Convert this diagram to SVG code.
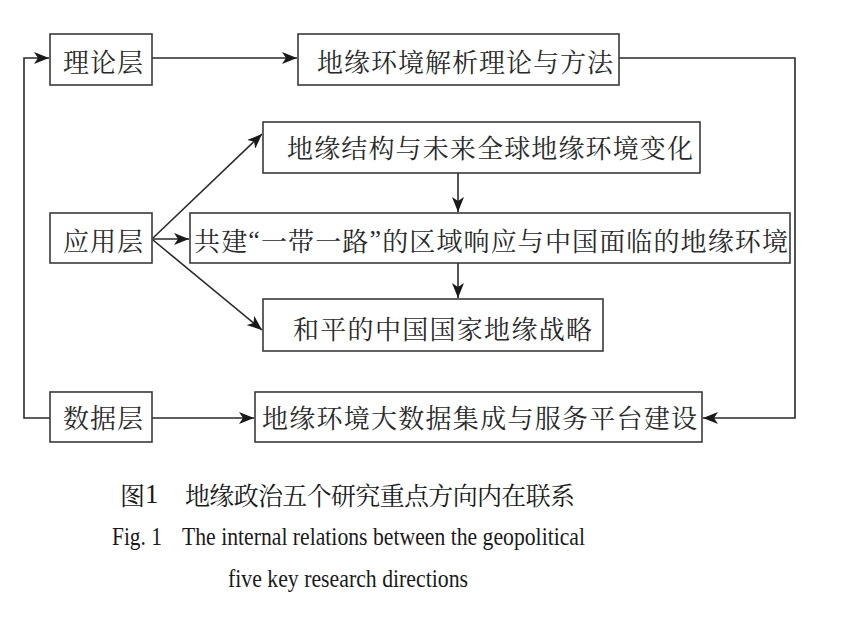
<svg xmlns="http://www.w3.org/2000/svg" width="865" height="638" viewBox="0 0 865 638">
<style>
.box{fill:#fff;stroke:#3a3a3a;stroke-width:1.6}
.t{font-family:"Noto Serif CJK SC","Noto Sans CJK SC","Liberation Serif",serif;font-size:26px;fill:#2a2a2a;dominant-baseline:central}
.q{font-family:"Liberation Serif",serif}
.c{fill:none;stroke:#2a2a2a;stroke-width:1.6}
.cap{font-family:"Liberation Serif","Noto Sans CJK SC",serif;fill:#1a1a1a;font-weight:normal}
.capz{font-family:"Noto Serif CJK SC","Noto Sans CJK SC",sans-serif;fill:#1a1a1a;font-weight:normal;font-size:25px;dominant-baseline:central}
</style>
<defs>
<marker id="ah" markerUnits="userSpaceOnUse" markerWidth="16" markerHeight="12" viewBox="0 0 16 12" refX="15" refY="6" orient="auto">
<path d="M0,0 L15,6 L0,12 L4,6 z" fill="#1a1a1a"/>
</marker>
</defs>
<rect width="865" height="638" fill="#fff"/>
<g id="connectors">
<path class="c" d="M50,418 H24 V58 H49" marker-end="url(#ah)"/>
<path class="c" d="M152,58 H297" marker-end="url(#ah)"/>
<path class="c" d="M619,58 H795 V418 H703" marker-end="url(#ah)"/>
<path class="c" d="M153,238 L262,134" marker-end="url(#ah)"/>
<path class="c" d="M152,239 H189" marker-end="url(#ah)"/>
<path class="c" d="M153,240 L262,330" marker-end="url(#ah)"/>
<path class="c" d="M458,173 V212" marker-end="url(#ah)"/>
<path class="c" d="M458,263 V298" marker-end="url(#ah)"/>
<path class="c" d="M152,418 H254" marker-end="url(#ah)"/>
</g>
<g id="theory">
<rect class="box" x="50" y="34" width="102" height="51"/>
<text class="t" x="63" y="60" textLength="80">理论层</text>
</g>
<g id="method">
<rect class="box" x="298" y="34" width="321" height="51"/>
<text class="t" x="317" y="60" textLength="296">地缘环境解析理论与方法</text>
</g>
<g id="structure">
<rect class="box" x="263" y="122" width="437" height="51"/>
<text class="t" x="287" y="146" textLength="406">地缘结构与未来全球地缘环境变化</text>
</g>
<g id="application">
<rect class="box" x="50" y="213" width="102" height="50"/>
<text class="t" x="63" y="239" textLength="80">应用层</text>
</g>
<g id="beltroad">
<rect class="box" x="190" y="213" width="600" height="50"/>
<text class="t" x="194" y="239" textLength="594">共建<tspan class="q">“</tspan>一带一路<tspan class="q">”</tspan>的区域响应与中国面临的地缘环境</text>
</g>
<g id="strategy">
<rect class="box" x="263" y="299" width="340" height="52"/>
<text class="t" x="293" y="327" textLength="299">和平的中国国家地缘战略</text>
</g>
<g id="data">
<rect class="box" x="50" y="392" width="102" height="50"/>
<text class="t" x="63" y="416" textLength="80">数据层</text>
</g>
<g id="platform">
<rect class="box" x="255" y="392" width="447" height="50"/>
<text class="t" x="262" y="416" textLength="435">地缘环境大数据集成与服务平台建设</text>
</g>
<g id="caption">
<text class="capz" x="120" y="494">图<tspan font-family="Liberation Serif, serif" font-size="27">1</tspan></text>
<text class="capz" x="185" y="494" textLength="390">地缘政治五个研究重点方向内在联系</text>
<text class="cap" x="112" y="545" font-size="26" textLength="50" lengthAdjust="spacingAndGlyphs">Fig. 1</text>
<text class="cap" x="182" y="545" font-size="26" textLength="403" lengthAdjust="spacingAndGlyphs">The internal relations between the geopolitical</text>
<text class="cap" x="228" y="587" font-size="26" textLength="240" lengthAdjust="spacingAndGlyphs">five key research directions</text>
</g>
</svg>
